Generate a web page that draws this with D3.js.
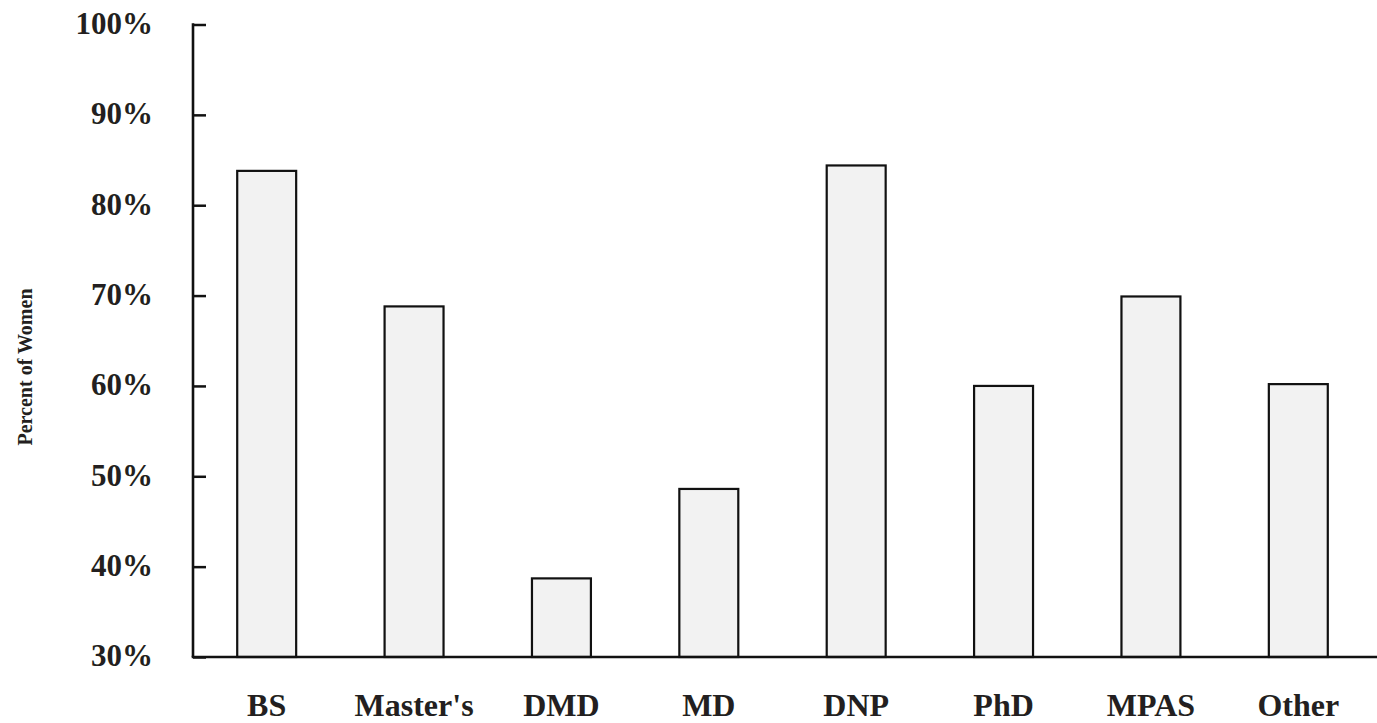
<!DOCTYPE html>
<html>
<head>
<meta charset="utf-8">
<script src="https://cdn.jsdelivr.net/npm/d3@7"></script>
<style>
  html, body { margin: 0; padding: 0; background: #ffffff; }
  svg { display: block; }
  text { font-family: "Liberation Serif", "DejaVu Serif", serif; font-weight: bold; fill: #231f20; }
</style>
</head>
<body>
<svg id="chart" width="1377" height="723"></svg>
<script>
const categories = ["BS", "Master's", "DMD", "MD", "DNP", "PhD", "MPAS", "Other"];
const values = [83.8, 68.8, 38.7, 48.6, 84.4, 60.0, 69.9, 60.2];
const yTicks = [30, 40, 50, 60, 70, 80, 90, 100];
const yTitle = "Percent of Women";

const svg = d3.select("#chart");
const plotLeft = 193, plotRight = 1372, plotTop = 24.5, plotBottom = 657;

const x = d3.scaleBand().domain(categories).range([plotLeft, plotRight])
  .paddingInner(0.6).paddingOuter(0.3);
const y = d3.scaleLinear().domain([30, 100]).range([plotBottom, plotTop]);

// bars
svg.append("g").selectAll("rect").data(categories).join("rect")
  .attr("x", d => x(d))
  .attr("y", (d, i) => y(values[i]))
  .attr("width", x.bandwidth())
  .attr("height", (d, i) => y(30) - y(values[i]))
  .attr("fill", "#f2f2f2")
  .attr("stroke", "#111")
  .attr("stroke-width", 2.2);

// y axis
const yAxis = d3.axisRight(y).tickValues(yTicks).tickSize(13).tickFormat("");
const yg = svg.append("g").attr("transform", `translate(${plotLeft},0)`).call(yAxis);
yg.select(".domain").remove();
yg.selectAll(".tick line").attr("stroke", "#111").attr("stroke-width", 2.5);
svg.append("line").attr("x1", plotLeft).attr("x2", plotLeft).attr("y1", plotTop - 1.2).attr("y2", plotBottom)
  .attr("stroke", "#111").attr("stroke-width", 2.6);

// y tick labels
svg.append("g").selectAll("text").data(yTicks).join("text")
  .attr("x", 153)
  .attr("y", d => y(d))
  .attr("dy", "0.3em")
  .attr("text-anchor", "end")
  .style("font-size", "31px")
  .text(d => d + "%");

// x axis line
const xAxis = d3.axisBottom(x).tickSize(0).tickFormat("");
const xg = svg.append("g").attr("transform", `translate(0,${plotBottom})`).call(xAxis);
xg.select(".domain").remove();
svg.append("line").attr("x1", plotLeft - 1.3).attr("x2", 1377).attr("y1", plotBottom).attr("y2", plotBottom)
  .attr("stroke", "#111").attr("stroke-width", 2.6);

// x labels
svg.append("g").selectAll("text").data(categories).join("text")
  .attr("x", d => x(d) + x.bandwidth() / 2)
  .attr("y", 716)
  .attr("text-anchor", "middle")
  .style("font-size", "32px")
  .text(d => d);

// y title
svg.append("text")
  .attr("transform", "translate(32,367) rotate(-90)")
  .attr("text-anchor", "middle")
  .style("font-size", "20px")
  .text(yTitle);
</script>
</body>
</html>
